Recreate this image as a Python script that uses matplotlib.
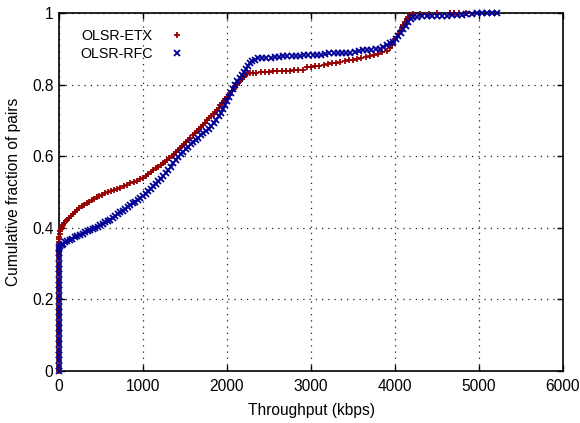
import numpy as np
import matplotlib
matplotlib.use("Agg")
import matplotlib.pyplot as plt

plt.rcParams['font.family'] = ['Liberation Sans', 'DejaVu Sans']
FONT_SIZE = 11.2
LEGEND_SIZE = 10.3

# OLSR-ETX : throughput (kbps) and cumulative fraction of pairs
etx_kbps = [0, 0, 0, 0, 0, 0, 0, 0, 0, 0, 0, 0, 0, 0, 0, 0, 0, 0, 0, 0, 0, 0, 0, 0, 0, 0,
            3, 8, 15, 25, 36, 50, 65, 80, 100, 120, 140, 165, 190, 215, 240, 270, 300, 330,
            360, 390, 420, 450, 480, 510, 545, 580, 615, 650, 690, 730, 770, 810, 850, 890,
            930, 970, 1000, 1030, 1060, 1090, 1120, 1150, 1180, 1210, 1240, 1265, 1290, 1315,
            1340, 1365, 1390, 1415, 1440, 1465, 1490, 1515, 1540, 1565, 1590, 1615, 1640,
            1665, 1690, 1715, 1740, 1765, 1790, 1815, 1840, 1860, 1880, 1900, 1920, 1940,
            1960, 1980, 2000, 2020, 2040, 2060, 2080, 2100, 2120, 2140, 2160, 2180, 2200,
            2220, 2240, 2270, 2310, 2350, 2400, 2450, 2500, 2550, 2600, 2650, 2700, 2750,
            2800, 2850, 2900, 2950, 3000, 3050, 3100, 3150, 3200, 3250, 3300, 3350, 3400,
            3450, 3500, 3550, 3600, 3650, 3700, 3750, 3800, 3850, 3900, 3940, 3960, 3980,
            4000, 4020, 4040, 4060, 4080, 4100, 4120, 4140, 4160, 4180, 4210, 4300, 4400,
            4500, 4660, 4700, 4760, 4850]
etx_frac = [0.0, 0.015, 0.03, 0.045, 0.06, 0.075, 0.09, 0.105, 0.12, 0.135, 0.15, 0.165,
            0.18, 0.195, 0.21, 0.225, 0.24, 0.255, 0.27, 0.285, 0.3, 0.315, 0.33, 0.345,
            0.36, 0.37,
            0.375, 0.382, 0.39, 0.397, 0.403, 0.408, 0.413, 0.418, 0.422, 0.427, 0.432,
            0.438, 0.445, 0.45, 0.455, 0.46, 0.465, 0.469, 0.473, 0.477, 0.481, 0.485,
            0.489, 0.492, 0.496, 0.5, 0.503, 0.506, 0.509, 0.512, 0.516, 0.52, 0.524,
            0.528, 0.532, 0.536, 0.54, 0.546, 0.551, 0.556, 0.561, 0.566, 0.571, 0.576,
            0.58, 0.585, 0.59, 0.596, 0.601, 0.606, 0.611, 0.616, 0.622, 0.628, 0.634,
            0.64, 0.646, 0.652, 0.658, 0.664, 0.67, 0.676, 0.682, 0.688, 0.694, 0.7,
            0.706, 0.712, 0.718, 0.724, 0.73, 0.736, 0.742, 0.748, 0.754, 0.76, 0.765,
            0.771, 0.777, 0.783, 0.789, 0.795, 0.8, 0.806, 0.811, 0.816, 0.821, 0.826,
            0.83, 0.832, 0.833, 0.833, 0.834, 0.834, 0.835, 0.837, 0.838, 0.838, 0.839,
            0.839, 0.84, 0.84, 0.842, 0.848, 0.85, 0.852, 0.853, 0.855, 0.858, 0.86,
            0.861, 0.864, 0.866, 0.868, 0.87, 0.872, 0.875, 0.877, 0.88, 0.883, 0.886,
            0.89, 0.895, 0.902, 0.91, 0.918, 0.926, 0.934, 0.942, 0.95, 0.958, 0.966,
            0.974, 0.982, 0.99, 0.995, 0.997, 0.998, 0.998, 0.999, 0.999, 0.999, 1.0, 1.0]

# OLSR-RFC
rfc_kbps = [0, 0, 0, 0, 0, 0, 0, 0, 0, 0, 0, 0, 0, 0, 0, 0, 0, 0, 0, 0, 0, 0, 0, 0,
            5, 15, 30, 50, 75, 100, 130, 160, 190, 220, 250, 280, 310, 340, 370, 400, 430,
            460, 490, 520, 550, 580, 610, 640, 670, 700, 730, 760, 790, 820, 850, 880, 910,
            940, 970, 1000, 1030, 1060, 1090, 1120, 1150, 1180, 1210, 1240, 1270, 1300,
            1330, 1360, 1390, 1420, 1450, 1480, 1510, 1540, 1570, 1600, 1630, 1660, 1690,
            1720, 1750, 1780, 1810, 1840, 1870, 1900, 1925, 1950, 1975, 2000, 2025, 2050,
            2075, 2100, 2125, 2150, 2175, 2200, 2225, 2250, 2275, 2300, 2330, 2370, 2420,
            2470, 2520, 2570, 2620, 2670, 2720, 2770, 2820, 2870, 2920, 2970, 3020, 3070,
            3120, 3170, 3220, 3270, 3320, 3370, 3420, 3470, 3520, 3570, 3620, 3670, 3720,
            3770, 3820, 3860, 3900, 3940, 3980, 4010, 4040, 4070, 4100, 4130, 4160, 4190,
            4220, 4260, 4320, 4380, 4440, 4500, 4560, 4620, 4680, 4740, 4800, 4850, 4920,
            4980, 5040, 5100, 5160, 5210]
rfc_frac = [0.0, 0.015, 0.03, 0.045, 0.06, 0.075, 0.09, 0.105, 0.12, 0.135, 0.15, 0.165,
            0.18, 0.195, 0.21, 0.225, 0.24, 0.255, 0.27, 0.285, 0.3, 0.315, 0.33, 0.34,
            0.345, 0.35, 0.353, 0.356, 0.36, 0.364, 0.367, 0.37, 0.374, 0.377, 0.38,
            0.384, 0.387, 0.391, 0.394, 0.397, 0.4, 0.403, 0.407, 0.411, 0.415, 0.419,
            0.423, 0.428, 0.433, 0.438, 0.443, 0.448, 0.453, 0.458, 0.463, 0.468, 0.473,
            0.478, 0.483, 0.488, 0.495, 0.502, 0.509, 0.516, 0.523, 0.53, 0.537, 0.545,
            0.553, 0.562, 0.571, 0.58, 0.589, 0.598, 0.606, 0.613, 0.62, 0.627, 0.634,
            0.64, 0.646, 0.652, 0.658, 0.664, 0.67, 0.677, 0.685, 0.693, 0.702, 0.712,
            0.722, 0.732, 0.743, 0.754, 0.765, 0.776, 0.788, 0.8, 0.81, 0.818, 0.826,
            0.834, 0.843, 0.852, 0.86, 0.866, 0.87, 0.873, 0.874, 0.875, 0.875, 0.876,
            0.877, 0.879, 0.88, 0.88, 0.881, 0.881, 0.882, 0.882, 0.883, 0.883, 0.884,
            0.886, 0.887, 0.887, 0.888, 0.888, 0.889, 0.889, 0.891, 0.894, 0.896, 0.897,
            0.898, 0.899, 0.9, 0.905, 0.91, 0.915, 0.92, 0.927, 0.935, 0.945, 0.955,
            0.965, 0.975, 0.983, 0.988, 0.99, 0.991, 0.991, 0.992, 0.992, 0.993, 0.993,
            0.994, 0.994, 0.995, 0.996, 0.998, 0.999, 0.999, 1.0, 1.0, 1.0]

x_ticks = [0, 1000, 2000, 3000, 4000, 5000, 6000]
y_ticks = [0, 0.2, 0.4, 0.6, 0.8, 1]
y_tick_labels = ["0", "0.2", "0.4", "0.6", "0.8", "1"]

ETX_COLOR = "#960000"
RFC_COLOR = "#000096"

fig = plt.figure(figsize=(5.8, 4.23), dpi=100)
ax = fig.add_axes([59 / 580, 52 / 423, 504 / 580, 358 / 423])

ax.plot(etx_kbps, etx_frac, linestyle="none", marker="+", markersize=5.0,
        markeredgewidth=1.3, color=ETX_COLOR, label="OLSR-ETX", clip_on=False, zorder=3)
ax.plot(rfc_kbps, rfc_frac, linestyle="none", marker="x", markersize=4.6,
        markeredgewidth=1.3, color=RFC_COLOR, label="OLSR-RFC", clip_on=False, zorder=4)

ax.set_xlim(0, 6000)
ax.set_ylim(0, 1)
ax.set_xticks(x_ticks)
ax.set_yticks(y_ticks)
ax.set_yticklabels(y_tick_labels)
ax.tick_params(direction="in", top=True, right=True, length=4, width=1,
               labelsize=FONT_SIZE, colors="black")
ax.tick_params(axis="x", pad=6)
ax.tick_params(axis="y", pad=4)
ax.grid(True, color="#222222", linestyle=(0, (1, 4)), linewidth=0.9)
ax.set_axisbelow(True)
for s in ax.spines.values():
    s.set_linewidth(1.2)

ax.set_xlabel("Throughput (kbps)", size=FONT_SIZE, labelpad=6)
ax.set_ylabel("Cumulative fraction of pairs", size=FONT_SIZE, labelpad=8)

leg = ax.legend(loc="upper left", bbox_to_anchor=(0.042, 0.955), frameon=False,
                markerfirst=False, fontsize=LEGEND_SIZE, borderpad=0, borderaxespad=0,
                labelspacing=0.27, handletextpad=0.7, handlelength=2.0)

plt.savefig("out.png", dpi=100)
